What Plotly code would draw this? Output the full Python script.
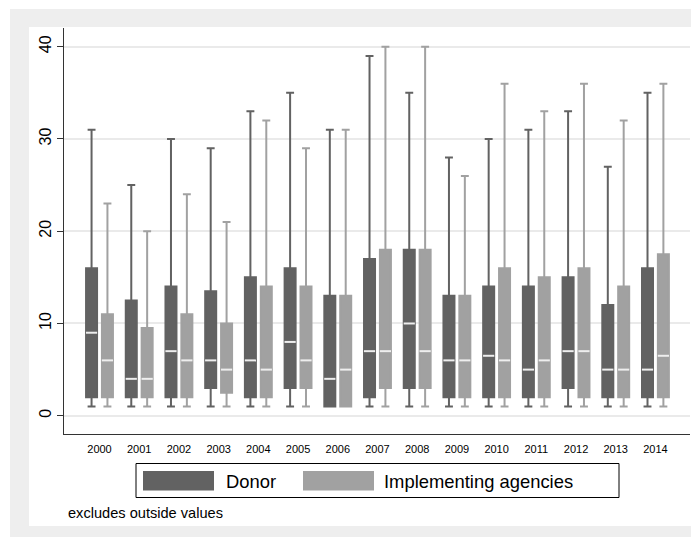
import plotly.graph_objects as go

# ---------------- data ----------------
years = [str(y) for y in range(2000, 2015)]

donor_lo = [1, 1, 1, 1, 1, 1, 1, 1, 1, 1, 1, 1, 1, 1, 1]
donor_q1 = [2, 2, 2, 3, 2, 3, 1, 2, 3, 2, 2, 2, 3, 2, 2]
donor_med = [9, 4, 7, 6, 6, 8, 4, 7, 10, 6, 6.5, 5, 7, 5, 5]
donor_q3 = [16, 12.5, 14, 13.5, 15, 16, 13, 17, 18, 13, 14, 14, 15, 12, 16]
donor_hi = [31, 25, 30, 29, 33, 35, 31, 39, 35, 28, 30, 31, 33, 27, 35]

ia_lo = [1, 1, 1, 1, 1, 1, 1, 1, 1, 1, 1, 1, 1, 1, 1]
ia_q1 = [2, 2, 2, 2.5, 2, 3, 1, 3, 3, 2, 2, 2, 2, 2, 2]
ia_med = [6, 4, 6, 5, 5, 6, 5, 7, 7, 6, 6, 6, 7, 5, 6.5]
ia_q3 = [11, 9.5, 11, 10, 14, 14, 13, 18, 18, 13, 16, 15, 16, 14, 17.5]
ia_hi = [23, 20, 24, 21, 32, 29, 31, 40, 40, 26, 36, 33, 36, 32, 36]

series_names = ["Donor", "Implementing agencies"]
y_ticks = [0, 10, 20, 30, 40]
note_text = "excludes outside values"

# ---------------- style ----------------
DARK = "#626262"
LIGHT = "#a1a1a1"
MED = "#eeeeee"
FONT = "Liberation Sans, Arial, sans-serif"

# the page body has an 8px margin; work in page pixels and shift
OX, OY = 8, 8
PW, PH = 699, 537
W, H = PW - OX, PH - OY
L, R, T, B = 64, 690, 28, 434  # plot area in page pixels
OFF = 0.2
BOXW = 0.277


def px2x(p):
    return (p - L) / (R - L)


def py2y(p):
    return (B - p) / (B - T)


idx = list(range(len(years)))
fig = go.Figure()

groups = [
    (series_names[0], -OFF, DARK, donor_lo, donor_q1, donor_med, donor_q3, donor_hi),
    (series_names[1], OFF, LIGHT, ia_lo, ia_q1, ia_med, ia_q3, ia_hi),
]
for name, off, col, lo, q1, med, q3, hi in groups:
    xs = [i + off for i in idx]
    fig.add_trace(go.Box(
        name=name, x=xs, q1=q1, median=med, q3=q3,
        lowerfence=lo, upperfence=hi,
        width=BOXW, whiskerwidth=0.72,
        fillcolor=col, line=dict(color=col, width=2),
        boxpoints=False, showlegend=False, hoverinfo="skip",
    ))
    fig.add_trace(go.Scatter(
        x=xs, y=med, mode="markers", showlegend=False, hoverinfo="skip",
        marker=dict(symbol="line-ew", size=8,
                    line=dict(color=MED, width=2)),
    ))

shapes = [
    # outer gray frame and inner white region
    dict(type="rect", xref="paper", yref="paper", layer="below",
         x0=px2x(10), x1=px2x(705), y0=py2y(9), y1=py2y(545),
         fillcolor="#eeeeee", line=dict(width=0)),
    dict(type="rect", xref="paper", yref="paper", layer="below",
         x0=px2x(29), x1=px2x(691), y0=py2y(27), y1=py2y(526),
         fillcolor="#ffffff", line=dict(width=0)),
    # legend box
    dict(type="rect", xref="paper", yref="paper",
         x0=px2x(136), x1=px2x(619), y0=py2y(463.5), y1=py2y(497.5),
         fillcolor="#ffffff", line=dict(color="#000000", width=1)),
    dict(type="rect", xref="paper", yref="paper",
         x0=px2x(143), x1=px2x(214), y0=py2y(471), y1=py2y(490.5),
         fillcolor=DARK, line=dict(width=0)),
    dict(type="rect", xref="paper", yref="paper",
         x0=px2x(303), x1=px2x(374), y0=py2y(471), y1=py2y(490.5),
         fillcolor=LIGHT, line=dict(width=0)),
]

annotations = [
    dict(text=series_names[0], xref="paper", yref="paper", x=px2x(224), y=py2y(481),
         xanchor="left", yanchor="middle", showarrow=False,
         font=dict(size=18.4, color="#000", family=FONT)),
    dict(text=series_names[1], xref="paper", yref="paper", x=px2x(382), y=py2y(481),
         xanchor="left", yanchor="middle", showarrow=False,
         font=dict(size=18.4, color="#000", family=FONT)),
    dict(text=note_text, xref="paper", yref="paper", x=px2x(66), y=py2y(513),
         xanchor="left", yanchor="middle", showarrow=False,
         font=dict(size=14.6, color="#000", family=FONT)),
]

fig.update_layout(
    width=W, height=H,
    margin=dict(l=L - OX, r=PW - R, t=T - OY, b=PH - B, pad=0),
    paper_bgcolor="#ffffff", plot_bgcolor="#ffffff",
    font=dict(family=FONT, color="#000"),
    shapes=shapes, annotations=annotations,
    showlegend=False, boxmode="overlay",
    xaxis=dict(
        range=[-0.894, 14.87], tickvals=idx, ticktext=years,
        showgrid=False, zeroline=False, showline=True,
        linecolor="#333333", linewidth=1,
        ticks="outside", ticklen=5, tickcolor="rgba(0,0,0,0)",
        tickfont=dict(size=11, color="#000", family=FONT),
    ),
    yaxis=dict(
        range=[-1.98, 42.03], tickvals=y_ticks,
        showgrid=True, gridcolor="#eaeaea", gridwidth=1.5, zeroline=False,
        showline=True, linecolor="#333333", linewidth=1,
        ticks="outside", ticklen=6, tickcolor="#333333",
        tickangle=-90,
        tickfont=dict(size=16, color="#000", family=FONT),
    ),
)

fig.write_html("out.html")
